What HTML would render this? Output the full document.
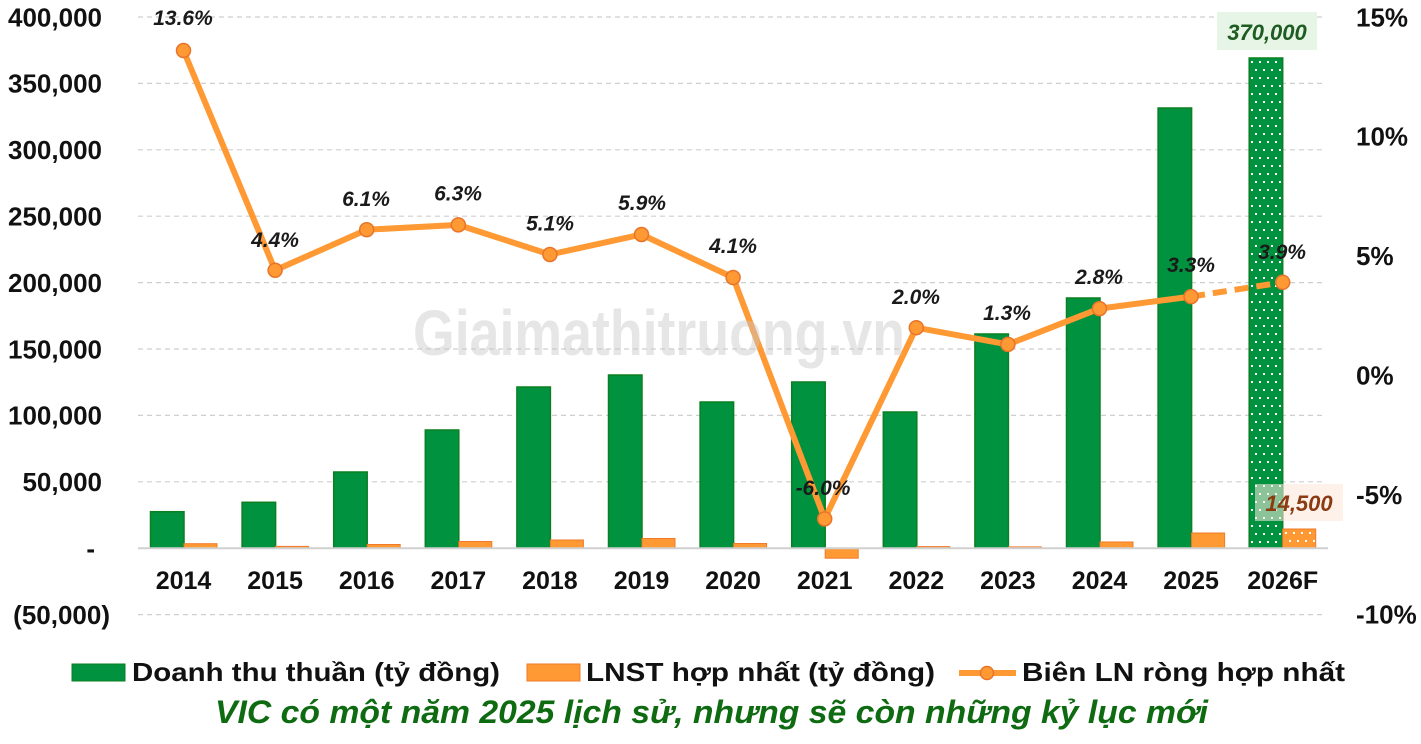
<!DOCTYPE html>
<html>
<head>
<meta charset="utf-8">
<style>
  html,body{margin:0;padding:0;background:#ffffff;}
  svg{display:block;}
  text{font-family:"Liberation Sans","DejaVu Sans",Arial,sans-serif;}
</style>
</head>
<body>
<svg width="1421" height="744" viewBox="0 0 1421 744" xmlns="http://www.w3.org/2000/svg">
  <defs>
    <pattern id="dotsG" patternUnits="userSpaceOnUse" width="8" height="16" x="1249" y="58">
      <rect x="0" y="0" width="8" height="16" fill="#00923f"/>
      <rect x="2" y="3" width="2" height="2" fill="#ffffff"/>
      <rect x="6" y="11" width="2" height="2" fill="#ffffff"/>
    </pattern>
    <pattern id="dotsO" patternUnits="userSpaceOnUse" width="8" height="16" x="1283" y="529">
      <rect x="0" y="0" width="8" height="16" fill="#ff9933"/>
      <rect x="2" y="3" width="2" height="2" fill="#ffffff"/>
      <rect x="6" y="11" width="2" height="2" fill="#ffffff"/>
    </pattern>
  </defs>

  <rect x="0" y="0" width="1421" height="744" fill="#ffffff"/>

  <!-- gridlines -->
  <g stroke="#cfcfcf" stroke-width="1.2" stroke-dasharray="5,4" fill="none">
    <line x1="138" y1="17" x2="1326" y2="17"/>
    <line x1="138" y1="83.4" x2="1326" y2="83.4"/>
    <line x1="138" y1="149.8" x2="1326" y2="149.8"/>
    <line x1="138" y1="216.2" x2="1326" y2="216.2"/>
    <line x1="138" y1="282.6" x2="1326" y2="282.6"/>
    <line x1="138" y1="349" x2="1326" y2="349"/>
    <line x1="138" y1="415.4" x2="1326" y2="415.4"/>
    <line x1="138" y1="481.8" x2="1326" y2="481.8"/>
    <line x1="138" y1="614.6" x2="1326" y2="614.6"/>
  </g>

  <!-- left axis labels -->
  <g font-size="26" font-weight="bold" fill="#111" text-anchor="end">
    <text x="102" y="26.3">400,000</text>
    <text x="102" y="92.7">350,000</text>
    <text x="102" y="159.1">300,000</text>
    <text x="102" y="225.5">250,000</text>
    <text x="102" y="291.9">200,000</text>
    <text x="102" y="358.3">150,000</text>
    <text x="102" y="424.7">100,000</text>
    <text x="102" y="491.1">50,000</text>
    <text x="95" y="557.5">-</text>
    <text x="110" y="623.9">(50,000)</text>
  </g>

  <!-- right axis labels -->
  <g font-size="26" font-weight="bold" fill="#111" text-anchor="start">
    <text x="1356" y="26.3">15%</text>
    <text x="1356" y="145.7">10%</text>
    <text x="1356" y="265.2">5%</text>
    <text x="1356" y="384.7">0%</text>
    <text x="1356" y="504.2">-5%</text>
    <text x="1356" y="623.7">-10%</text>
  </g>

  <!-- revenue bars -->
  <g fill="#00923f" stroke="#0b7f22" stroke-width="1.5">
    <rect x="150.5" y="511.7" width="33.5" height="36.5"/>
    <rect x="242.1" y="502.3" width="33.5" height="45.9"/>
    <rect x="333.7" y="472" width="33.5" height="76.2"/>
    <rect x="425.3" y="430" width="33.5" height="118.2"/>
    <rect x="516.9" y="387" width="33.5" height="161.2"/>
    <rect x="608.5" y="375" width="33.5" height="173.2"/>
    <rect x="700.1" y="402" width="33.5" height="146.2"/>
    <rect x="791.7" y="382" width="33.5" height="166.2"/>
    <rect x="883.3" y="412" width="33.5" height="136.2"/>
    <rect x="974.9" y="334" width="33.5" height="214.2"/>
    <rect x="1066.5" y="298" width="33.5" height="250.2"/>
    <rect x="1158.1" y="108" width="33.5" height="440.2"/>
  </g>
  <rect x="1249.2" y="58" width="33.5" height="490.2" fill="url(#dotsG)" stroke="#0b7f22" stroke-width="1.5"/>

  <!-- profit bars -->
  <g fill="#ff9933" stroke="#f07a2a" stroke-width="1">
    <rect x="184" y="543.7" width="33" height="4.5"/>
    <rect x="275.6" y="546.4" width="33" height="1.8"/>
    <rect x="367.2" y="544.5" width="33" height="3.7"/>
    <rect x="458.8" y="541.5" width="33" height="6.7"/>
    <rect x="550.4" y="540" width="33" height="8.2"/>
    <rect x="642" y="538.5" width="33" height="9.7"/>
    <rect x="733.6" y="543.5" width="33" height="4.7"/>
    <rect x="825.2" y="548.2" width="33" height="10"/>
    <rect x="916.8" y="546.6" width="33" height="1.6"/>
    <rect x="1008.4" y="546.9" width="33" height="1.3"/>
    <rect x="1100" y="542" width="33" height="6.2"/>
    <rect x="1191.6" y="533" width="33" height="15.2"/>
  </g>
  <rect x="1282.7" y="529" width="33" height="19.2" fill="url(#dotsO)" stroke="#f07a2a" stroke-width="1"/>

  <!-- zero line -->
  <line x1="138" y1="548.2" x2="1328" y2="548.2" stroke="#d0d0d0" stroke-width="2"/>

  <!-- x axis labels -->
  <g font-size="25" font-weight="bold" fill="#111" text-anchor="middle">
    <text x="183.5" y="589">2014</text>
    <text x="275.1" y="589">2015</text>
    <text x="366.7" y="589">2016</text>
    <text x="458.3" y="589">2017</text>
    <text x="549.9" y="589">2018</text>
    <text x="641.5" y="589">2019</text>
    <text x="733.1" y="589">2020</text>
    <text x="824.7" y="589">2021</text>
    <text x="916.3" y="589">2022</text>
    <text x="1007.9" y="589">2023</text>
    <text x="1099.5" y="589">2024</text>
    <text x="1191.1" y="589">2025</text>
    <text x="1282.7" y="589">2026F</text>
  </g>

  <!-- margin line -->
  <polyline fill="none" stroke="#ff9933" stroke-width="6" stroke-linejoin="round" stroke-linecap="round"
    points="183.5,50.5 275.1,270.3 366.7,229.7 458.3,224.9 549.9,254.5 641.5,234.5 733.1,277.5 824.7,518.9 916.3,327.7 1007.9,344.4 1099.5,308.6 1191.1,296.6"/>
  <line x1="1191.1" y1="296.6" x2="1282.7" y2="282.3" stroke="#ff9933" stroke-width="6" stroke-dasharray="14,8" stroke-linecap="butt"/>
  <g fill="#ff9933" stroke="#e8742a" stroke-width="1.5">
    <circle cx="183.5" cy="50.5" r="7"/>
    <circle cx="275.1" cy="270.3" r="7"/>
    <circle cx="366.7" cy="229.7" r="7"/>
    <circle cx="458.3" cy="224.9" r="7"/>
    <circle cx="549.9" cy="254.5" r="7"/>
    <circle cx="641.5" cy="234.5" r="7"/>
    <circle cx="733.1" cy="277.5" r="7"/>
    <circle cx="824.7" cy="518.9" r="7"/>
    <circle cx="916.3" cy="327.7" r="7"/>
    <circle cx="1007.9" cy="344.4" r="7"/>
    <circle cx="1099.5" cy="308.6" r="7"/>
    <circle cx="1191.1" cy="296.6" r="7"/>
    <circle cx="1282.7" cy="282.3" r="7"/>
  </g>

  <!-- margin labels -->
  <g font-size="21" font-weight="bold" font-style="italic" fill="#1a1a1a" text-anchor="middle">
    <text x="183" y="25">13.6%</text>
    <text x="275" y="247">4.4%</text>
    <text x="366" y="206">6.1%</text>
    <text x="458" y="200.5">6.3%</text>
    <text x="550" y="230.5">5.1%</text>
    <text x="642" y="210">5.9%</text>
    <text x="733" y="253">4.1%</text>
    <text x="823" y="495">-6.0%</text>
    <text x="916" y="304">2.0%</text>
    <text x="1007" y="320">1.3%</text>
    <text x="1099" y="284">2.8%</text>
    <text x="1191" y="272">3.3%</text>
    <text x="1282" y="259">3.9%</text>
  </g>

  <!-- highlighted value labels -->
  <rect x="1217" y="12" width="100" height="38" fill="#e6f5e6"/>
  <text x="1267" y="40" font-size="22" font-weight="bold" font-style="italic" fill="#1e5c22" text-anchor="middle">370,000</text>
  <rect x="1255" y="484" width="88" height="37" fill="#fbe1d1" opacity="0.45"/>
  <rect x="1255" y="484" width="28" height="37" fill="#ffffff" opacity="0.2"/>
  <text x="1299" y="511" font-size="22" font-weight="bold" font-style="italic" fill="#8b3a12" text-anchor="middle">14,500</text>

  <!-- watermark -->
  <text x="413" y="355" font-size="64" font-weight="bold" fill="#c8c8c8" opacity="0.45" textLength="492" lengthAdjust="spacingAndGlyphs">Giaimathitruong.vn</text>

  <!-- legend -->
  <rect x="72" y="664" width="53" height="17" fill="#00923f" stroke="#0b7f22" stroke-width="1"/>
  <text x="132" y="681" font-size="26" font-weight="bold" fill="#111" textLength="368" lengthAdjust="spacingAndGlyphs">Doanh thu thuần (tỷ đồng)</text>
  <rect x="527" y="664" width="53" height="17" fill="#ff9933" stroke="#f07a2a" stroke-width="1"/>
  <text x="586" y="681" font-size="26" font-weight="bold" fill="#111" textLength="349" lengthAdjust="spacingAndGlyphs">LNST hợp nhất (tỷ đồng)</text>
  <line x1="959" y1="673" x2="1016" y2="673" stroke="#ff9933" stroke-width="6"/>
  <circle cx="987" cy="673" r="6.5" fill="#ff9933" stroke="#e8742a" stroke-width="1.5"/>
  <text x="1022" y="681" font-size="26" font-weight="bold" fill="#111" textLength="323" lengthAdjust="spacingAndGlyphs">Biên LN ròng hợp nhất</text>

  <!-- title -->
  <text x="215" y="723" font-size="32" font-weight="bold" font-style="italic" fill="#0f6b12" textLength="993" lengthAdjust="spacingAndGlyphs">VIC có một năm 2025 lịch sử, nhưng sẽ còn những kỷ lục mới</text>
</svg>
</body>
</html>
